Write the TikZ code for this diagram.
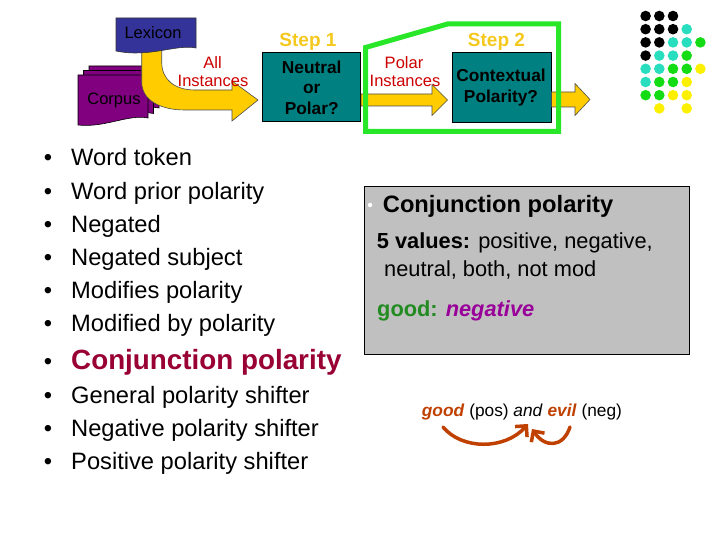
\documentclass[tikz,border=0pt]{standalone}
\usepackage{fontspec}
\setmainfont{Liberation Sans}
\usetikzlibrary{arrows.meta}
\definecolor{lexblue}{RGB}{51,51,153}
\definecolor{corpurple}{RGB}{128,0,128}
\definecolor{arrowyellow}{RGB}{255,204,0}
\definecolor{stepteal}{RGB}{0,128,128}
\definecolor{instred}{RGB}{204,0,0}
\definecolor{stepgold}{RGB}{245,200,30}
\definecolor{boxgreen}{RGB}{40,230,40}
\definecolor{conjred}{RGB}{153,0,51}
\definecolor{panelgray}{RGB}{192,192,192}
\definecolor{goodgreen}{RGB}{34,139,34}
\definecolor{negpurple}{RGB}{153,0,153}
\definecolor{rust}{RGB}{192,64,0}
\definecolor{dotcyan}{RGB}{40,222,190}
\definecolor{dotgreen}{RGB}{20,220,20}
\definecolor{dotyellow}{RGB}{250,240,0}
\newcommand\fsz[1]{\fontsize{#1}{#1}\selectfont}
\begin{document}
\begin{tikzpicture}[x=1pt,y=-1pt,
  txt/.style={inner sep=0pt, anchor=base},
  ltxt/.style={inner sep=0pt, anchor=base west},
  docshape/.style={fill=corpurple, draw=black, line width=0.6pt},
  blockarrow/.style={fill=arrowyellow, draw=black!70, line width=0.6pt, line join=miter},
  stepbox/.style={draw=black, line width=0.8pt, fill=stepteal, inner sep=0pt},
  dot/.style={circle, inner sep=0pt, minimum size=10.6pt},
  listtxt/.style={ltxt, font=\fsz{23.7}},
  bul/.style={txt, font=\fsz{23.7}},
  redtxt/.style={txt, text=instred, font=\fsz{16.5}},
  steptitle/.style={txt, text=stepgold, font=\bfseries\fsz{19}},
  boxtxt/.style={txt, font=\bfseries\fsz{17.3}},
  curvearrow/.style={rust, line width=3.5pt, line cap=round, -{Straight Barb[length=8pt,width=16pt]}}
  ]
\useasboundingbox (0,0) rectangle (720,540);

% ---------- corpus (stacked documents)
\begin{scope}[shift={(89,66)}]
  \path[docshape] (0,0) -- (70,0) -- (70,42) .. controls (50,38) and (27,53) .. (0,50) -- cycle;
\end{scope}
\begin{scope}[shift={(83.5,70.5)}]
  \path[docshape] (0,0) -- (70,0) -- (70,43) .. controls (50,39) and (27,53) .. (0,50) -- cycle;
\end{scope}
\begin{scope}[shift={(78,75)}]
  \path[docshape] (0,0) -- (70,0) -- (70,43) .. controls (50,39) and (27,53) .. (0,50) -- cycle;
\end{scope}
\node[txt, font=\fsz{16.5}] (corpus) at (114,105) {Corpus};

% ---------- curved yellow arrow from lexicon
\path[blockarrow] (141.7,48) -- (141.7,82) .. controls (141.7,100) and (160,110) .. (185,110)
  -- (232,110) -- (232,121) -- (258,100) -- (232,81) -- (232,90) -- (195,90)
  .. controls (175,90) and (161.7,80) .. (161.7,62) -- (161.7,48) -- cycle;

% ---------- lexicon
\path[fill=lexblue, draw=black!80, line width=0.6pt] (116,18) -- (196,18) -- (196,48)
  .. controls (175,44) and (150,58) .. (116,51) -- cycle;
\node[txt, font=\fsz{16.5}] (lexicon) at (153,39) {Lexicon};

\node[redtxt] (all) at (212.5,68.3) {All};
\node[redtxt] (allinst) at (213,86.7) {Instances};

% ---------- step 1
\node[steptitle] (step1) at (308,46.5) {Step 1};
\node[stepbox, minimum width=98pt, minimum height=69.5pt] (s1box) at (311.7,87) {};
\node[boxtxt] (neutral) at (311.7,73.3) {Neutral};
\node[boxtxt] (or) at (311.7,94) {or};
\node[boxtxt] (polarq) at (311.7,115) {Polar?};

% ---------- arrows between steps
\path[blockarrow] (s1box.east |- 0,94) -- (432,94) -- (432,84.5) -- (447.5,100) -- (432,115.5) -- (432,106) -- (s1box.east |- 0,106) -- cycle;

% ---------- step 2
\node[stepbox, minimum width=99pt, minimum height=70.5pt, anchor=north west] (s2box) at (451.7,51.7) {};
\node[boxtxt] (context) at (501,81.7) {Contextual};
\node[boxtxt] (polarity) at (501,102.3) {Polarity?};
\path[blockarrow] (s2box.east |- 0,92) -- (575,92) -- (575,83.5) -- (590,99.5) -- (575,115.5) -- (575,107) -- (s2box.east |- 0,107) -- cycle;

% ---------- green frame
\draw[boxgreen, line width=5pt, line join=miter] (365.5,47.5) -- (447.5,24) -- (558.5,24) -- (558.5,131.5) -- (365.5,131.5) -- cycle;
\node[steptitle] (step2) at (496.5,46.7) {Step 2};
\node[redtxt] (polar) at (404,69) {Polar};
\node[redtxt] (polinst) at (405,86.7) {Instances};

% ---------- dots
\foreach \c/\r/\k in {0/0/black,1/0/black,2/0/black,
  0/1/black,1/1/black,2/1/black,3/1/dotcyan,
  0/2/black,1/2/black,2/2/dotcyan,3/2/dotcyan,4/2/dotgreen,
  0/3/black,1/3/dotcyan,2/3/dotcyan,3/3/dotgreen,
  0/4/dotcyan,1/4/dotcyan,2/4/dotgreen,3/4/dotgreen,4/4/dotyellow,
  0/5/dotcyan,1/5/dotgreen,2/5/dotgreen,3/5/dotyellow,
  0/6/dotgreen,1/6/dotgreen,2/6/dotyellow,3/6/dotyellow,
  1/7/dotyellow,3/7/dotyellow}
  \node[dot, fill=\k] (dot-\c-\r) at ({645.6+13.7*\c},{16+13.2*\r}) {};

% ---------- left list
\node[bul] (b1) at (48,166) {•};
\node[listtxt] (l1) at (71,166) {Word token};
\node[bul] (b2) at (48,199.1) {•};
\node[listtxt] (l2) at (71,199.1) {Word prior polarity};
\node[bul] (b3) at (48,232.2) {•};
\node[listtxt] (l3) at (71,232.2) {Negated};
\node[bul] (b4) at (48,265.3) {•};
\node[listtxt] (l4) at (71,265.3) {Negated subject};
\node[bul] (b5) at (48,298.4) {•};
\node[listtxt] (l5) at (71,298.4) {Modifies polarity};
\node[bul] (b6) at (48,331.5) {•};
\node[listtxt] (l6) at (71,331.5) {Modified by polarity};
\node[bul] (b7) at (48,369.5) {•};
\node[ltxt, text=conjred, font=\bfseries\fsz{27.8}] (l7) at (71,369.5) {Conjunction polarity};
\node[bul] (b8) at (48,403) {•};
\node[listtxt] (l8) at (71,403) {General polarity shifter};
\node[bul] (b9) at (48,436) {•};
\node[listtxt] (l9) at (71,436) {Negative polarity shifter};
\node[bul] (b10) at (48,469) {•};
\node[listtxt] (l10) at (71,469) {Positive polarity shifter};

% ---------- gray panel
\node[draw=black, line width=0.7pt, fill=panelgray, minimum width=325pt, minimum height=167pt, anchor=north west, inner sep=0pt] (panel) at (363.5,186.5) {};
\node[circle, fill=white, inner sep=0pt, minimum size=4.5pt] (wbul) at (370,205) {};
\node[ltxt, font=\bfseries\fsz{23.7}] (ptitle) at (382.7,213) {Conjunction polarity};
\node[ltxt, font=\fsz{21.8}] (pvals) at (376.7,248) {\textbf{5 values:} positive, negative,};
\node[ltxt, font=\fsz{21.8}] (pvals2) at (384,276) {neutral, both, not mod};
\node[ltxt, font=\fsz{21.8}] (pgood) at (377,316) {\textcolor{goodgreen}{\textbf{good:}} \textcolor{negpurple}{\textbf{\itshape negative}}};

% ---------- example
\node[ltxt, font=\fsz{17.3}] (example) at (421.7,416) {\textcolor{rust}{\textbf{\itshape good}} (pos) \textit{and} \textcolor{rust}{\textbf{\itshape evil}} (neg)};
\coordinate (g1) at (443,427);
\coordinate (t1) at (528,424);
\coordinate (e1) at (570,427);
\coordinate (t2) at (532,429);
\draw[curvearrow] (g1) .. controls (462,450) and (505,450) .. (t1);
\draw[curvearrow] (e1) .. controls (563,448) and (545,448) .. (t2);
\end{tikzpicture}
\end{document}
